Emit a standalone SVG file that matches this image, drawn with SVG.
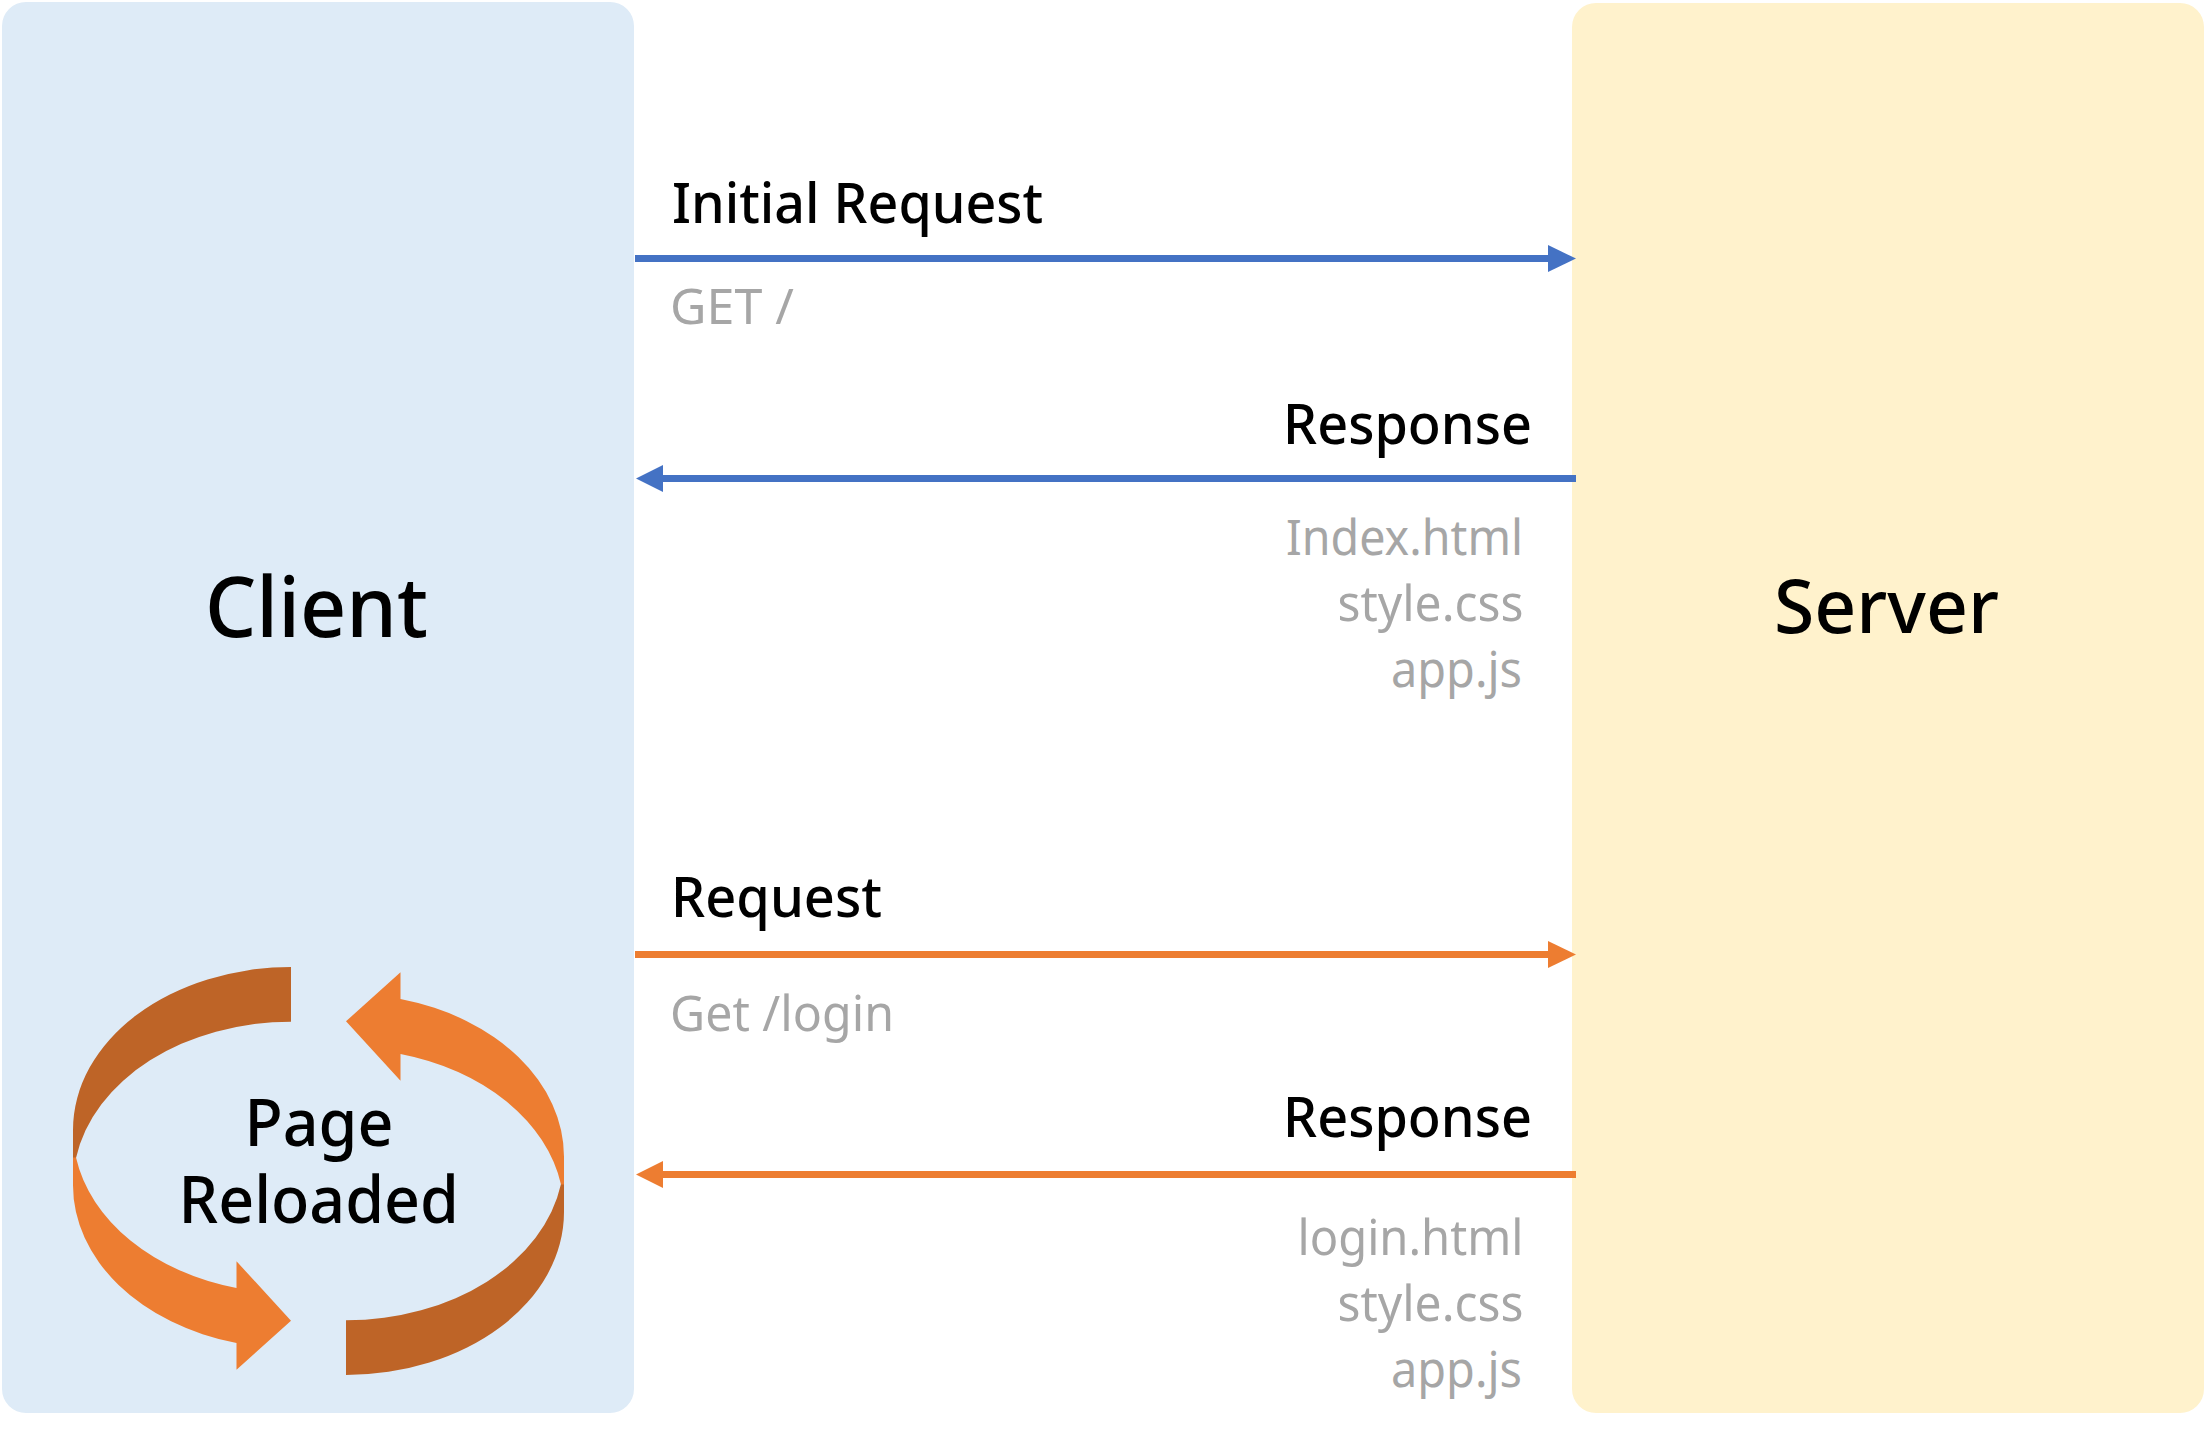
<svg xmlns="http://www.w3.org/2000/svg" width="2204" height="1439" viewBox="0 0 2204 1439">
<style>
text{font-family:"Noto Sans","Open Sans","Liberation Sans",sans-serif;}
.h{font-size:57px;fill:#000;font-weight:500}
.s{font-size:49px;fill:#a6a6a6}
.b{fill:#000;font-weight:500}
.p{font-size:66px;fill:#000;font-weight:500}
.bl{stroke:#4472c4;stroke-width:7;fill:none}
.or{stroke:#ed7d31;stroke-width:7;fill:none}
.bh{fill:#4472c4}.oh{fill:#ed7d31}.dk{fill:#be6427}
</style>
<rect width="2204" height="1439" fill="#fff"/>
<g id="client">
<rect x="2" y="2" width="632" height="1411" rx="24" ry="24" fill="#deebf7"/>
<text class="b" font-size="84" x="205" y="636.5" textLength="223" lengthAdjust="spacingAndGlyphs">Client</text>
</g>
<g id="server">
<rect x="1572" y="3" width="632" height="1410" rx="24" ry="24" fill="#fff2cc"/>
<text class="b" font-size="75" x="1774" y="633" textLength="225" lengthAdjust="spacingAndGlyphs">Server</text>
</g>
<g id="page-reloaded">
<path class="dk" d="M291,967A218,163 0 0 0 73,1130L73,1158L76,1158A218,163 0 0 1 291,1021.7Z"/>
<path class="oh" d="M291,1320.7L236.5,1369.7L236.5,1343A218,163 0 0 1 73,1185L73,1157.5L76,1157.5A218,163 0 0 0 236.5,1288L236.5,1261.3Z"/>
<path class="dk" d="M346,1375A218,163 0 0 0 564,1212L564,1184L561,1184A218,163 0 0 1 346,1320.3Z"/>
<path class="oh" d="M346,1021.3L400.5,972.3L400.5,999A218,163 0 0 1 564,1157L564,1184.5L561,1184.5A218,163 0 0 0 400.5,1054L400.5,1080.7Z"/>
<text class="p" x="244.5" y="1145.7" textLength="149" lengthAdjust="spacingAndGlyphs">Page</text>
<text class="p" x="178.5" y="1222.7" textLength="280.5" lengthAdjust="spacingAndGlyphs">Reloaded</text>
</g>
<g id="connectors">
<line class="bl" x1="635" y1="258.6" x2="1550" y2="258.6"/>
<path class="bh" d="M1576,258.6L1548,245L1548,272Z"/>
<line class="bl" x1="661" y1="478.6" x2="1576" y2="478.6"/>
<path class="bh" d="M636,478.6L663,465L663,492Z"/>
<line class="or" x1="635" y1="954.6" x2="1550" y2="954.6"/>
<path class="oh" d="M1576,954.6L1548,941L1548,968Z"/>
<line class="or" x1="661" y1="1174.5" x2="1576" y2="1174.5"/>
<path class="oh" d="M636,1174.5L663,1161L663,1188Z"/>
</g>
<g id="labels">
<text class="h" x="672" y="223" textLength="371" lengthAdjust="spacingAndGlyphs">Initial Request</text>
<text class="s" x="670" y="324" textLength="124" lengthAdjust="spacingAndGlyphs">GET /</text>
<text class="h" x="1283" y="443.6" textLength="249" lengthAdjust="spacingAndGlyphs">Response</text>
<text class="s" x="1286" y="555" textLength="237" lengthAdjust="spacingAndGlyphs">Index.html</text>
<text class="s" x="1337.5" y="621" textLength="186" lengthAdjust="spacingAndGlyphs">style.css</text>
<text class="s" x="1391" y="687" textLength="131" lengthAdjust="spacingAndGlyphs">app.js</text>
<text class="h" x="671" y="916.7" textLength="211" lengthAdjust="spacingAndGlyphs">Request</text>
<text class="s" x="670" y="1031" textLength="224" lengthAdjust="spacingAndGlyphs">Get /login</text>
<text class="h" x="1283" y="1136.7" textLength="249" lengthAdjust="spacingAndGlyphs">Response</text>
<text class="s" x="1297.5" y="1255" textLength="226" lengthAdjust="spacingAndGlyphs">login.html</text>
<text class="s" x="1337.5" y="1321" textLength="186" lengthAdjust="spacingAndGlyphs">style.css</text>
<text class="s" x="1391" y="1387" textLength="131" lengthAdjust="spacingAndGlyphs">app.js</text>
</g>
</svg>
